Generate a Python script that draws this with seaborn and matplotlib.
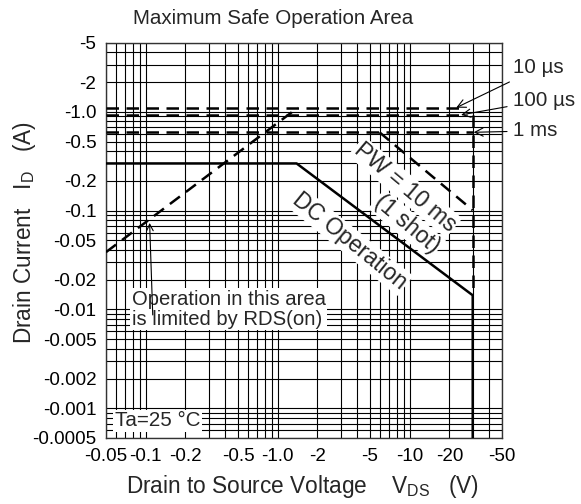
import numpy as np
import pandas as pd
import matplotlib
matplotlib.use('Agg')
import matplotlib.pyplot as plt
from matplotlib.ticker import FixedLocator, LogLocator, NullFormatter
import seaborn as sns

# values are magnitudes, the chart shows them with a minus sign
x_ticks = [0.05, 0.1, 0.2, 0.5, 1.0, 2, 5, 10, 20, 50]
x_labels = ['-0.05', '-0.1', '-0.2', '-0.5', '-1.0', '-2', '-5', '-10', '-20', '-50']
y_ticks = [5, 2, 1.0, 0.5, 0.2, 0.1, 0.05, 0.02, 0.01, 0.005, 0.002, 0.001, 0.0005]
y_labels = ['-5', '-2', '-1.0', '-0.5', '-0.2', '-0.1', '-0.05', '-0.02', '-0.01',
            '-0.005', '-0.002', '-0.001', '-0.0005']

# DC operation boundary
dc_v = [0.05, 1.39, 30, 30]
dc_i = [0.30, 0.30, 0.0139, 0.0005]
# RDS(on) limit
rds_v = [0.05, 1.42]
rds_i = [0.038, 1.1]
# single pulse current limits
pulse_names = ['10 µs', '100 µs', '1 ms']
pulse_i = [1.1, 0.93, 0.62]
pulse_v_end = [23.5, 27, 30]
# PW = 10 ms boundary
pw_v = [5.9, 30]
pw_i = [0.62, 0.101]
vlim_v = [30, 30]
vlim_i = [0.93, 0.0139]

sns.set_theme(style='white')
plt.rcParams['font.family'] = ['Liberation Sans', 'DejaVu Sans']
plt.rcParams['mathtext.fontset'] = 'custom'
plt.rcParams['mathtext.rm'] = 'Liberation Sans'

fig, ax = plt.subplots(figsize=(5.81, 5.04), dpi=100)
fig.subplots_adjust(left=106/581, right=502/581, top=1-42.7/504, bottom=1-438/504)
ax.set(xscale='log', yscale='log')
ax.set_xlim(0.05, 50)
ax.set_ylim(0.0005, 5)

dash = (0, (5, 3))
lw = 1.8
sns.lineplot(x=dc_v, y=dc_i, ax=ax, color='black', lw=lw, sort=False, estimator=None, zorder=5)
sns.lineplot(x=rds_v, y=rds_i, ax=ax, color='black', lw=lw, linestyle=dash, sort=False, estimator=None, zorder=5)
for cur, vend in zip(pulse_i, pulse_v_end):
    sns.lineplot(x=[0.05, vend], y=[cur, cur], ax=ax, color='black', lw=lw, linestyle=dash,
                 sort=False, estimator=None, zorder=5)
sns.lineplot(x=pw_v, y=pw_i, ax=ax, color='black', lw=lw, linestyle=dash, sort=False, estimator=None, zorder=5)
sns.lineplot(x=vlim_v, y=vlim_i, ax=ax, color='black', lw=lw, linestyle=dash, sort=False, estimator=None, zorder=5)

# grid on every 1..9 of each decade
for axis in (ax.xaxis, ax.yaxis):
    axis.set_minor_locator(LogLocator(base=10, subs=np.arange(1, 10), numticks=20))
    axis.set_minor_formatter(NullFormatter())
ax.xaxis.set_major_locator(FixedLocator(x_ticks))
ax.yaxis.set_major_locator(FixedLocator(y_ticks))
ax.set_xticklabels(x_labels)
ax.set_yticklabels(y_labels)
ax.grid(which='both', color='black', lw=0.8)
ax.set_axisbelow(True)
ax.tick_params(which='both', length=0, labelsize=13.5, colors='black')
ax.tick_params(axis='y', pad=7)
ax.tick_params(axis='x', pad=7)
for sp in ax.spines.values():
    sp.set_color('#333333')
    sp.set_linewidth(1.0)

fig.text(273/581, 1-18/504, 'Maximum Safe Operation Area', ha='center', va='center', fontsize=14.8)
ax.set_xlabel('Drain to Source Voltage    V$_{\\mathrm{DS}}$   (V)', fontsize=16.3)
ax.xaxis.set_label_coords(0.497, -0.088)
ax.set_ylabel('Drain Current   I$_{\\mathrm{D}}$   (A)', fontsize=16.3)
ax.yaxis.set_label_coords(-0.172, 0.52)

box = dict(facecolor='white', edgecolor='none', pad=1)
ax.text(0.755, 0.635, 'PW = 10 ms', transform=ax.transAxes, rotation=-40, ha='center', va='center',
        fontsize=16.5, bbox=box, zorder=3)
ax.text(0.76, 0.54, '(1 shot)', transform=ax.transAxes, rotation=-40, ha='center', va='center',
        fontsize=16.5, bbox=box, zorder=3)
ax.text(0.616, 0.498, 'DC Operation', transform=ax.transAxes, rotation=-39, ha='center', va='center',
        fontsize=16.5, bbox=box, zorder=3)
ax.text(0.065, 0.326, 'Operation in this area\nis limited by RDS(on)', transform=ax.transAxes,
        ha='left', va='center', fontsize=14.6, linespacing=1.05, bbox=box, zorder=3)
ax.text(0.022, 0.044, 'Ta=25 °C', transform=ax.transAxes, ha='left', va='center',
        fontsize=14.8, bbox=box, zorder=3)

arrow = dict(arrowstyle='->', color='black', lw=0.8, shrinkA=0, shrinkB=0)
ax.annotate('', xy=(0.107, 0.075), xytext=(0.113, 0.0088), arrowprops=arrow, zorder=6)

text_y = [0.936, 0.855, 0.777]
heads_v = [22.5, 24.5, 30.5]
for name, cur, hv, ty in zip(pulse_names, pulse_i, heads_v, text_y):
    ax.annotate(name, xy=(hv, cur), xycoords='data', xytext=(1.028, ty), textcoords='axes fraction',
                ha='left', va='center', fontsize=14.8, arrowprops=dict(arrow, shrinkA=2), zorder=6,
                annotation_clip=False)

fig.savefig('out.png', dpi=100, facecolor='white')
